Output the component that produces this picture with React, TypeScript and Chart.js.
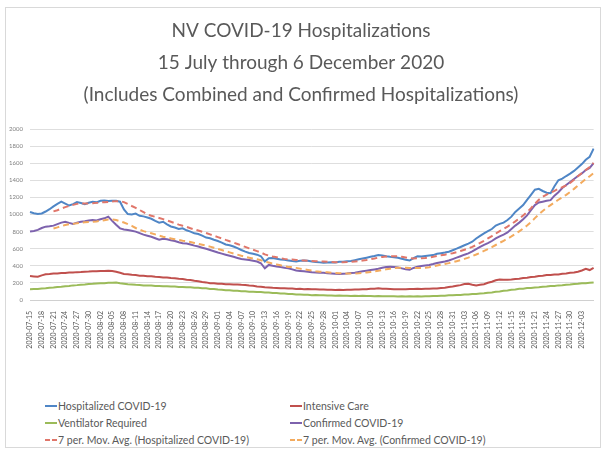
import React, { useEffect, useRef } from "react";
import { Chart, registerables } from "chart.js";

Chart.register(...registerables);

const titleLines = [
  "NV COVID-19 Hospitalizations",
  "15 July through 6 December 2020",
  "(Includes Combined and Confirmed Hospitalizations)",
];

const startDate = "2020-07-15";

const hospitalized = [
  1030, 1015, 1005, 1012, 1035, 1062, 1095, 1125, 1150, 1128,
  1105, 1122, 1145, 1135, 1120, 1138, 1150, 1142, 1160, 1163,
  1158, 1162, 1160, 1150, 1060, 1005, 1000, 1010, 985, 978,
  965, 950, 925, 905, 915, 885, 860, 848, 830, 838,
  815, 800, 780, 772, 752, 730, 722, 705, 690, 672,
  650, 640, 625, 606, 585, 566, 550, 540, 530, 512,
  450, 488, 490, 482, 475, 470, 462, 455, 450, 458,
  462, 460, 450, 445, 440, 436, 438, 442, 440, 446,
  448, 452, 456, 466, 476, 486, 495, 505, 515, 527,
  522, 512, 505, 500, 495, 482, 470, 462, 490, 512,
  510, 515, 520, 525, 540, 548, 555, 565, 582, 600,
  620, 640, 660, 682, 720, 750, 780, 805, 830, 870,
  890, 905, 935, 975, 1030, 1070, 1110, 1170, 1230, 1290,
  1300, 1275, 1255, 1250, 1330, 1400, 1420, 1450, 1478, 1510,
  1550, 1590, 1640, 1675, 1770,
];

const intensiveCare = [
  280, 276, 272, 288, 300, 304, 311, 311, 316, 317,
  321, 321, 326, 327, 331, 332, 336, 335, 339, 339,
  342, 338, 330, 318, 305, 301, 294, 291, 284, 284,
  279, 277, 271, 269, 264, 263, 257, 255, 249, 245,
  237, 233, 224, 219, 211, 206, 197, 195, 189, 189,
  184, 185, 181, 181, 177, 176, 169, 166, 159, 156,
  149, 147, 142, 141, 137, 137, 134, 134, 130, 131,
  127, 128, 125, 125, 122, 123, 120, 121, 118, 119,
  117, 120, 120, 123, 123, 126, 127, 131, 132, 136,
  133, 131, 130, 127, 125, 127, 126, 129, 128, 131,
  130, 133, 132, 135, 135, 141, 144, 153, 157, 166,
  174, 186, 190, 178, 171, 179, 184, 201, 214, 231,
  240, 237, 236, 239, 246, 249, 257, 261, 269, 273,
  281, 284, 291, 293, 298, 299, 306, 309, 318, 322,
  331, 345, 365, 350, 375,
];

const ventilator = [
  125, 128, 129, 134, 137, 143, 145, 151, 154, 161,
  164, 171, 174, 179, 181, 187, 189, 194, 196, 197,
  201, 202, 204, 196, 191, 184, 181, 177, 176, 171,
  170, 169, 165, 165, 161, 161, 157, 157, 153, 152,
  149, 148, 143, 142, 137, 136, 130, 128, 122, 120,
  114, 113, 108, 107, 102, 101, 97, 97, 93, 93,
  89, 88, 83, 82, 77, 76, 71, 70, 65, 64,
  60, 60, 57, 58, 55, 56, 53, 54, 51, 52,
  49, 51, 48, 50, 47, 49, 46, 47, 45, 46,
  44, 45, 43, 44, 42, 43, 41, 43, 41, 43,
  42, 45, 45, 48, 48, 51, 51, 55, 55, 59,
  59, 64, 65, 70, 71, 76, 79, 86, 89, 96,
  99, 107, 111, 119, 123, 131, 133, 139, 141, 147,
  149, 155, 157, 163, 165, 171, 173, 179, 181, 187,
  189, 195, 196, 201, 205,
];

const confirmed = [
  800, 808, 820, 842, 858, 862, 870, 888, 905, 916,
  902, 890, 905, 916, 922, 930, 936, 930, 945, 955,
  975, 925, 880, 838, 825, 818, 810, 800, 782, 765,
  752, 740, 722, 705, 715, 710, 698, 690, 675, 665,
  660, 650, 636, 625, 612, 600, 585, 570, 555, 542,
  530, 518, 505, 492, 480, 474, 468, 460, 450, 430,
  371, 410, 400, 392, 385, 378, 372, 358, 345, 340,
  335, 330, 325, 322, 320, 318, 314, 310, 306, 304,
  307, 310, 315, 320, 328, 335, 342, 350, 358, 365,
  376, 385, 390, 386, 380, 370, 360, 355, 375, 388,
  398, 404, 410, 420, 432, 442, 450, 462, 478, 495,
  512, 530, 545, 568, 595, 620, 645, 665, 690, 720,
  745, 765, 790, 830, 870, 905, 945, 990, 1050, 1110,
  1140, 1150, 1160, 1168, 1220, 1260, 1310, 1345, 1380, 1415,
  1450, 1480, 1520, 1545, 1600,
];

const tickLabels = [
  "2020-07-15", "2020-07-18", "2020-07-21", "2020-07-24", "2020-07-27", "2020-07-30",
  "2020-08-02", "2020-08-05", "2020-08-08", "2020-08-11", "2020-08-14", "2020-08-17",
  "2020-08-20", "2020-08-23", "2020-08-26", "2020-08-29", "2020-09-01", "2020-09-04",
  "2020-09-07", "2020-09-10", "2020-09-13", "2020-09-16", "2020-09-19", "2020-09-22",
  "2020-09-25", "2020-09-28", "2020-10-01", "2020-10-04", "2020-10-07", "2020-10-10",
  "2020-10-13", "2020-10-16", "2020-10-19", "2020-10-22", "2020-10-25", "2020-10-28",
  "2020-10-31", "2020-11-03", "2020-11-06", "2020-11-09", "2020-11-12", "2020-11-15",
  "2020-11-18", "2020-11-21", "2020-11-24", "2020-11-27", "2020-11-30", "2020-12-03",
];

const seriesNames = [
  "Hospitalized COVID-19",
  "Intensive Care",
  "Ventilator Required",
  "Confirmed COVID-19",
  "7 per. Mov. Avg. (Hospitalized COVID-19)",
  "7 per. Mov. Avg. (Confirmed COVID-19)",
];
const seriesColors = ["#4f86c6", "#c0504d", "#9bbb59", "#7d62ad", "#e0766a", "#f3ab5e"];
const yTicks = [0, 200, 400, 600, 800, 1000, 1200, 1400, 1600, 1800, 2000];
const maPeriod = 7;

// Category dates, one per day from the start date
const categories: string[] = hospitalized.map((_, i) => {
  const d = new Date(startDate + "T00:00:00Z");
  d.setUTCDate(d.getUTCDate() + i);
  return d.toISOString().slice(0, 10);
});

// Excel-style trailing moving-average trendline
function movingAverage(values: number[], period: number): (number | null)[] {
  return values.map((_, i) => {
    if (i < period - 1) return null;
    let s = 0;
    for (let k = i - period + 1; k <= i; k++) s += values[k];
    return s / period;
  });
}

const FONT = "Lato, 'Open Sans', sans-serif";

export default function App() {
  const canvasRef = useRef<HTMLCanvasElement | null>(null);

  useEffect(() => {
    if (!canvasRef.current) return;
    const mk = (i: number, data: (number | null)[], dashed: boolean) => ({
      label: seriesNames[i],
      data,
      borderColor: seriesColors[i],
      backgroundColor: seriesColors[i],
      borderWidth: 2,
      borderDash: dashed ? [6, 4] : [],
      pointRadius: 0,
      tension: 0,
      fill: false,
      order: dashed ? 0 : 1,
    });
    const chart = new Chart(canvasRef.current, {
      type: "line",
      data: {
        labels: categories,
        datasets: [
          mk(0, hospitalized, false),
          mk(1, intensiveCare, false),
          mk(2, ventilator, false),
          mk(3, confirmed, false),
          mk(4, movingAverage(hospitalized, maPeriod), true),
          mk(5, movingAverage(confirmed, maPeriod), true),
        ],
      },
      options: {
        animation: false,
        responsive: false,
        maintainAspectRatio: false,
        layout: { padding: { left: 6, right: 9, bottom: 45, top: 0 } },
        plugins: {
          legend: { display: false },
          tooltip: { enabled: false },
          title: {
            display: true,
            text: titleLines,
            color: "#595959",
            font: { family: FONT, size: 19, weight: "normal", lineHeight: 32 / 19 },
            padding: { top: 15, bottom: 18 },
          },
        },
        scales: {
          x: {
            type: "category",
            offset: false,
            grid: { display: false },
            border: { display: true, color: "#d0d0d0", width: 1 },
            ticks: {
              autoSkip: false,
              maxRotation: 90,
              minRotation: 90,
              padding: 3,
              color: "#595959",
              font: { family: FONT, size: 7 },
              callback: (_v: any, idx: number) =>
                tickLabels.includes(categories[idx]) ? categories[idx] : "",
            },
            afterFit: (s: any) => {
              s.height = 50;
            },
          },
          y: {
            min: yTicks[0],
            max: yTicks[yTicks.length - 1],
            afterBuildTicks: (s: any) => {
              s.ticks = yTicks.map((v) => ({ value: v }));
            },
            grid: { color: "#dedede", lineWidth: 1, drawTicks: false },
            border: { display: false },
            ticks: {
              color: "#7f7f7f",
              padding: 7,
              font: { family: FONT, size: 6 },
              callback: (v: any) => String(v),
            },
            afterFit: (s: any) => {
              s.width = 24;
            },
          },
        },
      },
    });
    return () => chart.destroy();
  }, []);

  const legendItem = (i: number) => (
    <div key={i} style={{ display: "flex", alignItems: "center", height: 17, whiteSpace: "nowrap" }}>
      <svg width={12} height={4} style={{ marginRight: 1 }}>
        <line
          x1={0}
          y1={2}
          x2={12}
          y2={2}
          stroke={seriesColors[i]}
          strokeWidth={2}
          strokeDasharray={i >= 4 ? "5 2" : undefined}
        />
      </svg>
      <span>{seriesNames[i]}</span>
    </div>
  );

  return (
    <div
      style={{
        position: "fixed",
        left: 0,
        top: 0,
        width: 605,
        height: 454,
        background: "#ffffff",
        overflow: "hidden",
      }}
    >
      <canvas ref={canvasRef} width={605} height={395} style={{ position: "absolute", left: 0, top: 0 }} />
      <div
        style={{
          position: "absolute",
          left: 45,
          top: 397,
          display: "grid",
          gridTemplateColumns: "245px 270px",
          fontFamily: FONT,
          fontSize: 10.5,
          color: "#595959",
        }}
      >
        {[0, 1, 2, 3, 4, 5].map(legendItem)}
      </div>
      <div
        style={{
          position: "absolute",
          left: 5,
          top: 7,
          width: 594,
          height: 439,
          border: "1px solid #d9d9d9",
          pointerEvents: "none",
        }}
      />
    </div>
  );
}
